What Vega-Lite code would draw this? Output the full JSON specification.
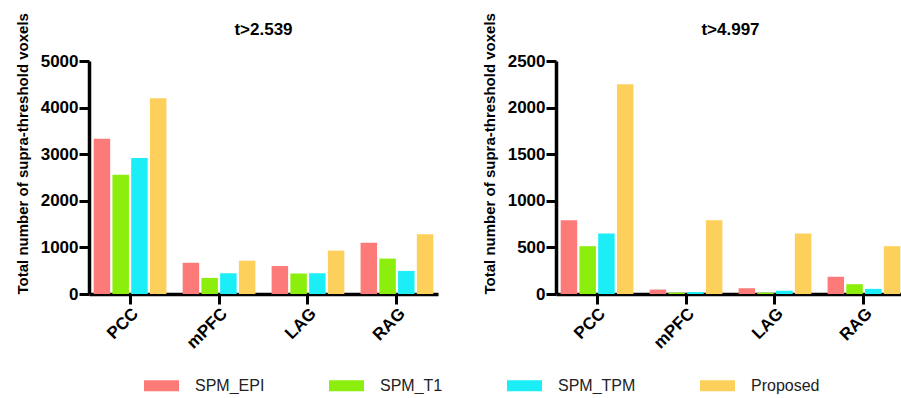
{
  "$schema": "https://vega.github.io/schema/vega-lite/v6.json",
  "padding": {"left": 15, "top": 12, "right": 0, "bottom": 0},
  "autosize": {"type": "pad"},
  "background": "white",
  "data": {
    "values": [
      {"panel": "t>2.539", "region": "PCC", "method": "SPM_EPI", "value": 3330},
      {"panel": "t>2.539", "region": "PCC", "method": "SPM_T1", "value": 2560},
      {"panel": "t>2.539", "region": "PCC", "method": "SPM_TPM", "value": 2920},
      {"panel": "t>2.539", "region": "PCC", "method": "Proposed", "value": 4200},
      {"panel": "t>2.539", "region": "mPFC", "method": "SPM_EPI", "value": 670},
      {"panel": "t>2.539", "region": "mPFC", "method": "SPM_T1", "value": 345},
      {"panel": "t>2.539", "region": "mPFC", "method": "SPM_TPM", "value": 445},
      {"panel": "t>2.539", "region": "mPFC", "method": "Proposed", "value": 715},
      {"panel": "t>2.539", "region": "LAG", "method": "SPM_EPI", "value": 600},
      {"panel": "t>2.539", "region": "LAG", "method": "SPM_T1", "value": 440},
      {"panel": "t>2.539", "region": "LAG", "method": "SPM_TPM", "value": 445},
      {"panel": "t>2.539", "region": "LAG", "method": "Proposed", "value": 930},
      {"panel": "t>2.539", "region": "RAG", "method": "SPM_EPI", "value": 1100},
      {"panel": "t>2.539", "region": "RAG", "method": "SPM_T1", "value": 760},
      {"panel": "t>2.539", "region": "RAG", "method": "SPM_TPM", "value": 495},
      {"panel": "t>2.539", "region": "RAG", "method": "Proposed", "value": 1280},
      {"panel": "t>4.997", "region": "PCC", "method": "SPM_EPI", "value": 790},
      {"panel": "t>4.997", "region": "PCC", "method": "SPM_T1", "value": 513},
      {"panel": "t>4.997", "region": "PCC", "method": "SPM_TPM", "value": 648},
      {"panel": "t>4.997", "region": "PCC", "method": "Proposed", "value": 2250},
      {"panel": "t>4.997", "region": "mPFC", "method": "SPM_EPI", "value": 48},
      {"panel": "t>4.997", "region": "mPFC", "method": "SPM_T1", "value": 15},
      {"panel": "t>4.997", "region": "mPFC", "method": "SPM_TPM", "value": 20},
      {"panel": "t>4.997", "region": "mPFC", "method": "Proposed", "value": 790},
      {"panel": "t>4.997", "region": "LAG", "method": "SPM_EPI", "value": 62},
      {"panel": "t>4.997", "region": "LAG", "method": "SPM_T1", "value": 15},
      {"panel": "t>4.997", "region": "LAG", "method": "SPM_TPM", "value": 35},
      {"panel": "t>4.997", "region": "LAG", "method": "Proposed", "value": 648},
      {"panel": "t>4.997", "region": "RAG", "method": "SPM_EPI", "value": 185},
      {"panel": "t>4.997", "region": "RAG", "method": "SPM_T1", "value": 105},
      {"panel": "t>4.997", "region": "RAG", "method": "SPM_TPM", "value": 55},
      {"panel": "t>4.997", "region": "RAG", "method": "Proposed", "value": 513}
    ]
  },
  "spacing": 44,
  "hconcat": [
    {
      "title": "t>2.539",
      "transform": [{"filter": "datum.panel == 't>2.539'"}],
      "width": 349,
      "height": 233,
      "mark": {"type": "bar"},
      "encoding": {
        "x": {"field": "region", "type": "nominal", "sort": ["PCC", "mPFC", "LAG", "RAG"], "scale": {"paddingInner": 0.157, "paddingOuter": 0.04}, "axis": {"title": null, "labelAngle": -45}},
        "xOffset": {"field": "method", "type": "nominal", "sort": ["SPM_EPI", "SPM_T1", "SPM_TPM", "Proposed"], "scale": {"paddingInner": 0.12, "paddingOuter": 0.06}},
        "y": {"field": "value", "type": "quantitative", "scale": {"domain": [0, 5000], "nice": false}, "axis": {"values": [0, 1000, 2000, 3000, 4000, 5000], "format": "d", "title": "Total number of supra-threshold voxels", "titleAnchor": "start"}},
        "color": {"field": "method", "type": "nominal", "sort": ["SPM_EPI", "SPM_T1", "SPM_TPM", "Proposed"], "scale": {"domain": ["SPM_EPI", "SPM_T1", "SPM_TPM", "Proposed"], "range": ["#FC7B79", "#8BEE0C", "#1CEEF8", "#FDD05B"]}, "legend": {"title": null, "orient": "none", "legendX": 55, "legendY": 307, "direction": "horizontal", "columns": 4, "columnPadding": 64, "symbolType": "M-1,-0.32H1V0.32H-1Z", "symbolSize": 1225, "symbolStrokeWidth": 0, "symbolOpacity": 1, "labelFontSize": 16, "labelFont": "Liberation Sans", "labelColor": "#222", "labelOffset": 16}}
      }
    },
    {
      "title": "t>4.997",
      "transform": [{"filter": "datum.panel == 't>4.997'"}],
      "width": 349,
      "height": 233,
      "mark": {"type": "bar"},
      "encoding": {
        "x": {"field": "region", "type": "nominal", "sort": ["PCC", "mPFC", "LAG", "RAG"], "scale": {"paddingInner": 0.157, "paddingOuter": 0.04}, "axis": {"title": null, "labelAngle": -45}},
        "xOffset": {"field": "method", "type": "nominal", "sort": ["SPM_EPI", "SPM_T1", "SPM_TPM", "Proposed"], "scale": {"paddingInner": 0.12, "paddingOuter": 0.06}},
        "y": {"field": "value", "type": "quantitative", "scale": {"domain": [0, 2500], "nice": false}, "axis": {"values": [0, 500, 1000, 1500, 2000, 2500], "format": "d", "title": "Total number of supra-threshold voxels", "titleAnchor": "start"}},
        "color": {"field": "method", "type": "nominal", "sort": ["SPM_EPI", "SPM_T1", "SPM_TPM", "Proposed"]}
      }
    }
  ],
  "config": {
    "view": {"stroke": null},
    "font": "Liberation Sans",
    "title": {"fontSize": 17, "fontWeight": "bold", "font": "Liberation Sans", "color": "black", "anchor": "middle", "offset": -26},
    "axis": {
      "grid": false,
      "domainColor": "black",
      "domainWidth": 3.5,
      "tickColor": "black",
      "tickWidth": 3,
      "tickSize": 10,
      "labelFont": "Liberation Sans",
      "labelFontWeight": "bold",
      "labelFontSize": 17,
      "labelColor": "black",
      "labelPadding": 1,
      "titleFont": "Liberation Sans",
      "titleFontWeight": "bold",
      "titleFontSize": 15,
      "titleColor": "black",
      "titlePadding": 10
    }
  }
}
